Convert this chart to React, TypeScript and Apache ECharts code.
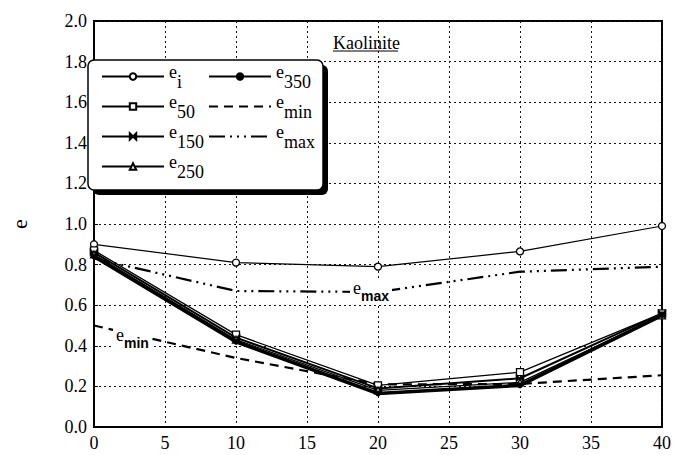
import React, { useEffect, useRef } from "react";
import * as echarts from "echarts";

const xValues = [0, 10, 20, 30, 40];
const eI = [0.9, 0.81, 0.79, 0.865, 0.99];
const e50 = [0.87, 0.455, 0.205, 0.27, 0.56];
const e150 = [0.86, 0.44, 0.19, 0.24, 0.56];
const e250 = [0.85, 0.43, 0.18, 0.22, 0.55];
const e350 = [0.84, 0.42, 0.165, 0.205, 0.55];
const eMin = [0.5, 0.34, 0.21, 0.212, 0.255];
const eMax = [0.83, 0.67, 0.665, 0.765, 0.79];

const subs: Record<string, string> = {
  ei: "i", e50: "50", e150: "150", e250: "250", e350: "350", emin: "min", emax: "max",
};

const FONT = "Liberation Serif";
const SANS = "Liberation Sans";

const pairs = (ys: number[]) => xValues.map((x, i) => [x, ys[i]]);

const bowtie = "path://M0,0L5,5L0,10ZM10,0L5,5L10,10Z";

export default function App() {
  const ref = useRef<HTMLDivElement>(null);
  useEffect(() => {
    document.body.style.margin = "0";
    if (!ref.current) return;
    const chart = echarts.init(ref.current, null, { renderer: "svg" });
    const rich = {
      b: { fontFamily: FONT, fontSize: 18, color: "#000", padding: [0, 0, 9, 0] },
      s: { fontFamily: FONT, fontSize: 18, color: "#000", padding: [11, 0, 0, 0] },
    };
    const legendCommon = {
      orient: "vertical",
      itemWidth: 62,
      itemHeight: 8,
      itemGap: 2,
      z: 20,
      selectedMode: false,
      textStyle: { fontFamily: FONT, fontSize: 18, color: "#000", rich },
      formatter: (n: string) => `{b|e}{s|${subs[n]}}`,
    };
    const line = (name: string, data: number[], opts: any) => ({
      name,
      type: "line",
      data: pairs(data),
      symbolSize: 7,
      z: 5,
      ...opts,
    });
    const annRich = {
      b: { fontFamily: FONT, fontSize: 18, fill: "#000", padding: [0, 0, 8, 0] },
      s: { fontFamily: SANS, fontSize: 14, fontWeight: "bold", fill: "#000", padding: [8, 0, 0, 0] },
    };
    chart.setOption({
      animation: false,
      backgroundColor: "#fff",
      textStyle: { fontFamily: FONT },
      grid: { left: 83, right: 8, top: 21, bottom: 28, show: true, borderColor: "#000", borderWidth: 2 },
      xAxis: {
        type: "value",
        min: 0,
        max: 40,
        interval: 5,
        axisLine: { show: true, lineStyle: { color: "#000", width: 2 } },
        axisTick: { show: false },
        axisLabel: { fontFamily: FONT, fontSize: 18, color: "#000", margin: 7 },
        splitLine: { show: true, lineStyle: { color: "#111", width: 1, type: [2, 3] } },
      },
      yAxis: {
        type: "value",
        min: 0,
        max: 2,
        interval: 0.2,
        name: "e",
        nameLocation: "middle",
        nameGap: 64,
        nameRotate: 90,
        nameTextStyle: { fontFamily: FONT, fontSize: 22, color: "#000" },
        axisLine: { show: true, lineStyle: { color: "#000", width: 2 } },
        axisTick: { show: true, inside: true, length: 4, lineStyle: { color: "#000", width: 1 } },
        axisLabel: {
          fontFamily: FONT,
          fontSize: 18,
          color: "#000",
          margin: 7,
          formatter: (v: number) => v.toFixed(1),
        },
        splitLine: { show: true, lineStyle: { color: "#111", width: 1, type: [2, 3] } },
      },
      legend: [
        { ...legendCommon, left: 96, top: 58, data: ["ei", "e50", "e150", "e250"] },
        {
          ...legendCommon,
          left: 203,
          top: 58,
          data: [
            "e350",
            { name: "emin", itemStyle: { opacity: 0 } },
            { name: "emax", itemStyle: { opacity: 0 } },
          ],
        },
      ],
      graphic: [
        {
          type: "rect",
          z: 10,
          shape: { x: 93, y: 65, width: 235, height: 130, r: 6 },
          style: { fill: "#000" },
        },
        {
          type: "rect",
          z: 11,
          shape: { x: 88, y: 60, width: 235, height: 130, r: 6 },
          style: { fill: "#fff", stroke: "#000", lineWidth: 1.5 },
        },
        {
          type: "text",
          z: 12,
          x: 333,
          y: 34,
          style: {
            text: "Kaolinite",
            fontFamily: FONT,
            fontSize: 18,
            fill: "#000",
          },
        },
        {
          type: "line",
          z: 12,
          shape: { x1: 333, y1: 51, x2: 398, y2: 51 },
          style: { stroke: "#000", lineWidth: 1.2 },
        },
        {
          type: "text",
          z: 12,
          x: 350,
          y: 279,
          style: {
            text: "{b|e}{s|max}",
            backgroundColor: "#fff",
            padding: [0, 3, 0, 3],
            rich: annRich,
          },
        },
        {
          type: "text",
          z: 12,
          x: 113,
          y: 326,
          style: {
            text: "{b|e}{s|min}",
            backgroundColor: "#fff",
            padding: [0, 3, 0, 3],
            rich: annRich,
          },
        },
      ],
      series: [
        line("ei", eI, {
          symbol: "circle",
          itemStyle: { color: "#fff", borderColor: "#000", borderWidth: 1.3 },
          lineStyle: { color: "#000", width: 1.2 },
        }),
        line("e50", e50, {
          symbol: "rect",
          itemStyle: { color: "#fff", borderColor: "#000", borderWidth: 1.3 },
          lineStyle: { color: "#000", width: 1.3 },
        }),
        line("e150", e150, {
          symbol: bowtie,
          symbolSize: 8,
          itemStyle: { color: "#000", borderColor: "#000", borderWidth: 0.5 },
          lineStyle: { color: "#000", width: 2 },
        }),
        line("e250", e250, {
          symbol: "triangle",
          itemStyle: { color: "#fff", borderColor: "#000", borderWidth: 1.3 },
          lineStyle: { color: "#000", width: 1.3 },
        }),
        line("e350", e350, {
          symbol: "circle",
          symbolSize: 5,
          itemStyle: { color: "#000", borderColor: "#000", borderWidth: 1 },
          lineStyle: { color: "#000", width: 3.5 },
        }),
        line("emin", eMin, {
          symbol: "none",
          lineStyle: { color: "#000", width: 2.2, type: [9, 6] },
          itemStyle: { color: "#000" },
        }),
        line("emax", eMax, {
          symbol: "none",
          lineStyle: { color: "#000", width: 2.2, type: [16, 5, 2, 5, 2, 5, 2, 5] },
          itemStyle: { color: "#000" },
        }),
      ],
    });
    return () => chart.dispose();
  }, []);
  return <div ref={ref} style={{ width: 674, height: 455 }} />;
}
